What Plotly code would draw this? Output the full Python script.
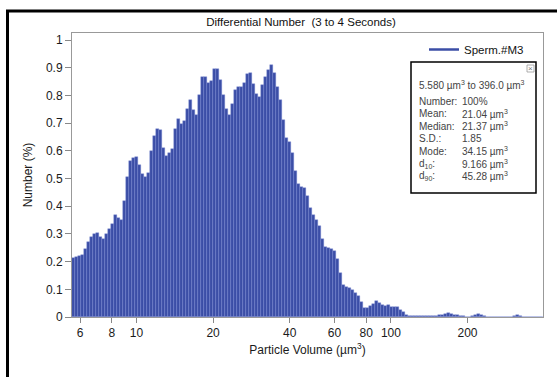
import numpy as np
import plotly.graph_objects as go

# ---- data ----
size_min = 5.58      # µm³, first channel edge
size_max = 396.0     # µm³, last channel edge
number_pct = [
    0.212, 0.216, 0.220, 0.224, 0.245, 0.272, 0.288, 0.298, 0.303, 0.289,
    0.281, 0.300, 0.318, 0.337, 0.368, 0.357, 0.352, 0.420, 0.507, 0.565,
    0.573, 0.578, 0.550, 0.517, 0.505, 0.520, 0.600, 0.652, 0.680, 0.675,
    0.610, 0.580, 0.593, 0.605, 0.680, 0.715, 0.697, 0.707, 0.750, 0.782,
    0.749, 0.730, 0.800, 0.866, 0.867, 0.845, 0.852, 0.895, 0.897, 0.855,
    0.800, 0.750, 0.731, 0.768, 0.818, 0.830, 0.830, 0.845, 0.878, 0.881,
    0.843, 0.804, 0.795, 0.836, 0.867, 0.892, 0.910, 0.880, 0.832, 0.782,
    0.710, 0.648, 0.630, 0.592, 0.528, 0.480, 0.470, 0.465, 0.437, 0.395,
    0.368, 0.352, 0.329, 0.280, 0.252, 0.249, 0.245, 0.237, 0.210, 0.160,
    0.115, 0.110, 0.104, 0.097, 0.088, 0.076, 0.054, 0.032, 0.033, 0.039,
    0.047, 0.056, 0.051, 0.042, 0.041, 0.042, 0.037, 0.036, 0.035, 0.025,
    0.017, 0.009, 0.005, 0.005, 0.004, 0.004, 0.005, 0.005, 0.005, 0.004,
    0.005, 0.005, 0.006, 0.008, 0.010, 0.013, 0.012, 0.009, 0.006, 0.003,
    0.002, 0.001, 0.001, 0.004, 0.008, 0.010, 0.006, 0.002, 0.0, 0.0,
    0.0, 0.0, 0.0, 0.0, 0.0, 0.0, 0.0, 0.005, 0.008, 0.005,
    0.001, 0.0, 0.0, 0.0, 0.0, 0.0, 0.0,
]
x_ticks = [6, 8, 10, 20, 40, 60, 80, 100, 200]
y_ticks = [0, 0.1, 0.2, 0.3, 0.4, 0.5, 0.6, 0.7, 0.8, 0.9, 1]
y_ticktext = ["0", "0.1", "0.2", "0.3", "0.4", "0.5", "0.6", "0.7", "0.8", "0.9", "1"]
series_name = "Sperm.#M3"
title_text = "Differential Number  (3 to 4 Seconds)"
range_text = "5.580 µm<sup>3</sup> to 396.0 µm<sup>3</sup>"
stat_labels = ["Number:", "Mean:", "Median:", "S.D.:", "Mode:", "d<sub>10</sub>:", "d<sub>90</sub>:"]
stat_values = ["100%", "21.04 µm<sup>3</sup>", "21.37 µm<sup>3</sup>", "1.85",
               "34.15 µm<sup>3</sup>", "9.166 µm<sup>3</sup>", "45.28 µm<sup>3</sup>"]

# channel layout (log-spaced channels of the instrument)
n = len(number_pct)
edges = np.geomspace(size_min, size_max, n + 1)
bar_mid = (edges[:-1] + edges[1:]) / 2.0
bar_width = edges[1:] - edges[:-1]

BAR = "#3b4ea6"
FONT = "Liberation Sans, Arial, sans-serif"

fig = go.Figure()
fig.add_trace(go.Bar(
    x=bar_mid, y=number_pct, width=bar_width,
    marker=dict(color=BAR, line=dict(color="rgba(120,138,210,0.8)", width=0.5)),
    showlegend=False, hoverinfo="y",
))
fig.add_trace(go.Scatter(
    x=[None], y=[None], mode="lines", name=series_name,
    line=dict(color=BAR, width=2.5),
))

W, H = 557, 377
L, R, T, B = 72, 14, 33, 60
pw, ph = W - L - R, H - T - B

def px(x):
    return (x - L) / pw

def py(y):
    return (H - B - y) / ph

shapes = [
    # outer black frame (top and left)
    dict(type="line", xref="paper", yref="paper", x0=px(6), x1=px(557), y0=py(11), y1=py(11),
         line=dict(color="black", width=3)),
    dict(type="line", xref="paper", yref="paper", x0=px(7.5), x1=px(7.5), y0=py(10), y1=py(377),
         line=dict(color="black", width=3)),
    # stats box
    dict(type="rect", xref="paper", yref="paper", x0=px(411), x1=px(536), y0=py(193), y1=py(62),
         line=dict(color="black", width=1.5), fillcolor="white"),
    dict(type="rect", xref="paper", yref="paper", x0=px(527), x1=px(534), y0=py(72), y1=py(65),
         line=dict(color="#999", width=0.8), fillcolor="white"),
]

annotations = [
    dict(text="×", xref="paper", yref="paper", x=px(530.5), y=py(68.5), showarrow=False,
         font=dict(size=8, color="#777", family=FONT), xanchor="center", yanchor="middle"),
    dict(text=range_text, xref="paper", yref="paper", x=px(417), y=py(85), showarrow=False,
         font=dict(size=10, color="#444", family=FONT), xanchor="left", yanchor="middle"),
]
row_y = [101, 113.5, 126, 138.5, 151, 163.5, 176]
for lab, val, yy in zip(stat_labels, stat_values, row_y):
    annotations.append(dict(text=lab, xref="paper", yref="paper", x=px(417), y=py(yy),
                            showarrow=False, xanchor="left", yanchor="middle",
                            font=dict(size=10, color="#444", family=FONT)))
    annotations.append(dict(text=val, xref="paper", yref="paper", x=px(460), y=py(yy),
                            showarrow=False, xanchor="left", yanchor="middle",
                            font=dict(size=10, color="#444", family=FONT)))

fig.update_layout(
    width=W, height=H,
    margin=dict(l=L, r=R, t=T, b=B),
    paper_bgcolor="white", plot_bgcolor="white",
    bargap=0,
    font=dict(family=FONT, color="#222", size=12),
    title=dict(text=title_text, xref="paper", x=px(301), xanchor="center",
               yref="container", y=1 - 22 / H, yanchor="middle",
               font=dict(size=11.5, color="#111", family=FONT)),
    xaxis=dict(
        type="log", range=[np.log10(size_min), np.log10(size_max)],
        tickvals=x_ticks, ticktext=[str(t) for t in x_ticks],
        ticks="outside", ticklen=5, tickcolor="#888",
        showline=True, linecolor="#999", linewidth=1, mirror=True,
        showgrid=False, zeroline=False,
        tickfont=dict(size=12, color="#1a1a1a", family=FONT),
        title=dict(text="Particle Volume (µm<sup>3</sup>)", standoff=6,
                   font=dict(size=12, color="#1a1a1a", family=FONT)),
    ),
    yaxis=dict(
        range=[0, 1.0253], tickvals=y_ticks, ticktext=y_ticktext,
        ticks="outside", ticklen=6, tickcolor="#888",
        showline=True, linecolor="#999", linewidth=1, mirror=True,
        showgrid=False, zeroline=False,
        tickfont=dict(size=12, color="#1a1a1a", family=FONT),
        title=dict(text="Number (%)", standoff=10,
                   font=dict(size=12, color="#1a1a1a", family=FONT)),
    ),
    legend=dict(x=1 - 14 / pw, xanchor="right", y=1 - 2 / ph, yanchor="top",
                bgcolor="rgba(0,0,0,0)", font=dict(size=11.5, color="#111", family=FONT),
                itemwidth=30, tracegroupgap=0),
    shapes=shapes,
    annotations=annotations,
)

fig.write_html("out.html")
